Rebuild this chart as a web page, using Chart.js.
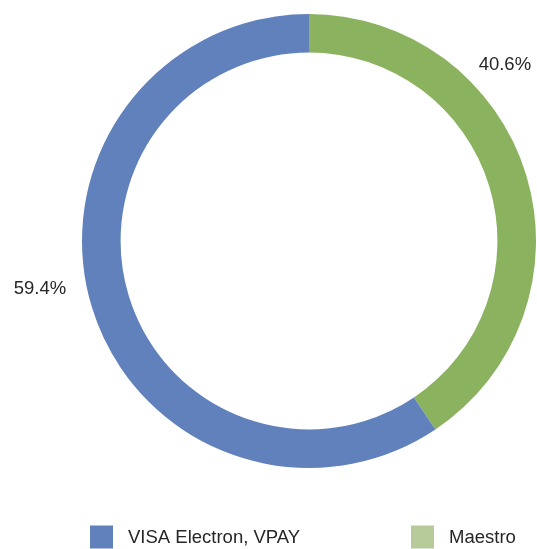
<!DOCTYPE html>
<html>
<head>
<meta charset="utf-8">
<script src="https://cdn.jsdelivr.net/npm/chart.js@4/dist/chart.umd.min.js"></script>
<style>
  html, body { margin: 0; padding: 0; background: #ffffff; }
  #wrap { position: relative; width: 537px; height: 549px; }
</style>
</head>
<body>
<div id="wrap"><canvas id="c" width="537" height="549"></canvas></div>
<script>
const categories = ["Maestro", "VISA Electron, VPAY"];
const values = [40.6, 59.4];
const segmentColors = ["#8ab25f", "#6181bc"];
const legendColors = ["#b6cb99", "#6181bc"];
const valueLabels = ["40.6%", "59.4%"];

const FONT = '18.5px "Liberation Sans", Arial, sans-serif';
const TEXT = '#262626';

const labelPlugin = {
  id: 'labels',
  afterDraw(chart) {
    const ctx = chart.ctx;
    const meta = chart.getDatasetMeta(0);
    ctx.save();
    ctx.font = FONT;
    ctx.fillStyle = TEXT;
    ctx.textAlign = 'center';
    ctx.textBaseline = 'middle';
    // value labels placed outside the ring, along chosen directions
    const offsets = [
      {ang: -0.732, r: 1.16},   // Maestro label (upper right)
      {ang: 2.965, r: 1.204}    // VISA label (left)
    ];
    meta.data.forEach((arc, i) => {
      const cx = arc.x, cy = arc.y, R = arc.outerRadius;
      const o = offsets[i];
      const x = cx + Math.cos(o.ang) * R * o.r;
      const y = cy + Math.sin(o.ang) * R * o.r;
      ctx.fillText(valueLabels[i], x, y);
    });
    // legend
    const items = [
      {idx: 1, x: 90},
      {idx: 0, x: 411}
    ];
    const ly = 537;
    items.forEach(it => {
      ctx.fillStyle = legendColors[it.idx];
      ctx.fillRect(it.x, ly - 11.5, 23, 23);
      ctx.fillStyle = TEXT;
      ctx.textAlign = 'left';
      ctx.fillText(categories[it.idx], it.x + 38, ly + 1);
    });
    ctx.restore();
  }
};

new Chart(document.getElementById('c'), {
  type: 'doughnut',
  data: {
    labels: categories,
    datasets: [{
      data: values,
      backgroundColor: segmentColors,
      borderWidth: 0,
      hoverOffset: 0
    }]
  },
  options: {
    responsive: false,
    animation: false,
    cutout: '83%',
    rotation: 0,
    layout: { padding: { left: 82, right: 1, top: 14, bottom: 81 } },
    plugins: {
      legend: { display: false },
      tooltip: { enabled: false }
    }
  },
  plugins: [labelPlugin]
});
</script>
</body>
</html>
